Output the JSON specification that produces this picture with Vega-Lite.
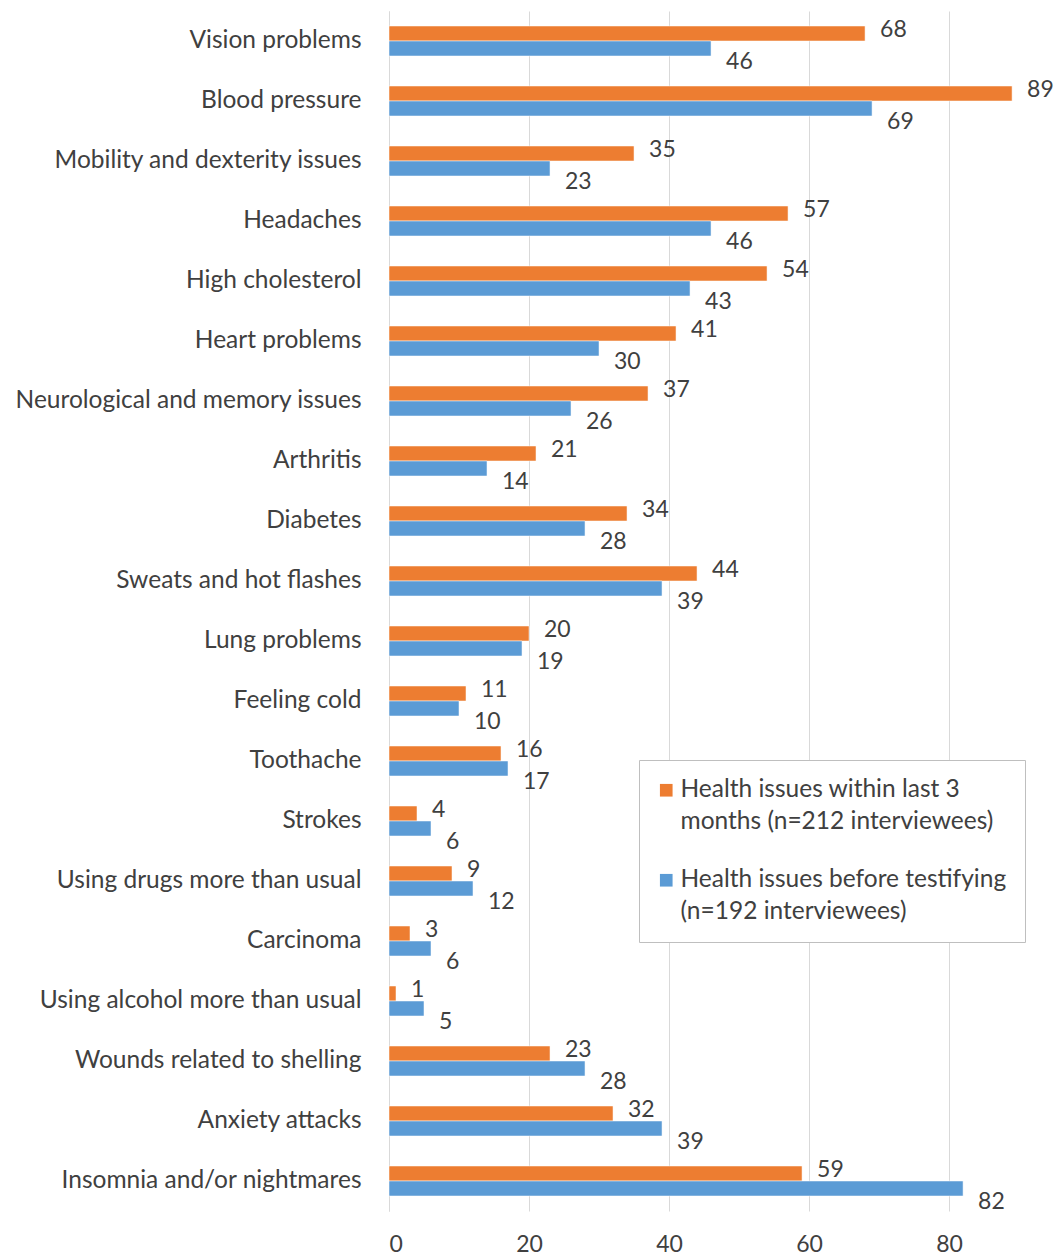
{
  "$schema": "https://vega.github.io/schema/vega-lite/v6.json",
  "width": 670,
  "height": 1200,
  "autosize": {"type": "none"},
  "padding": {"left": 389, "top": 11, "right": 0, "bottom": 45},
  "background": "white",
  "config": {
    "view": {"stroke": null},
    "font": "Lato",
    "style": {"guide-label": {"lineHeight": 32}},
    "axis": {"labelFont": "Lato", "labelColor": "#404040"}
  },
  "data": {
    "values": [
      {"category": "Vision problems", "series": "Health issues within last 3 months (n=212 interviewees)", "value": 68},
      {"category": "Vision problems", "series": "Health issues before testifying (n=192 interviewees)", "value": 46},
      {"category": "Blood pressure", "series": "Health issues within last 3 months (n=212 interviewees)", "value": 89},
      {"category": "Blood pressure", "series": "Health issues before testifying (n=192 interviewees)", "value": 69},
      {"category": "Mobility and dexterity issues", "series": "Health issues within last 3 months (n=212 interviewees)", "value": 35},
      {"category": "Mobility and dexterity issues", "series": "Health issues before testifying (n=192 interviewees)", "value": 23},
      {"category": "Headaches", "series": "Health issues within last 3 months (n=212 interviewees)", "value": 57},
      {"category": "Headaches", "series": "Health issues before testifying (n=192 interviewees)", "value": 46},
      {"category": "High cholesterol", "series": "Health issues within last 3 months (n=212 interviewees)", "value": 54},
      {"category": "High cholesterol", "series": "Health issues before testifying (n=192 interviewees)", "value": 43},
      {"category": "Heart problems", "series": "Health issues within last 3 months (n=212 interviewees)", "value": 41},
      {"category": "Heart problems", "series": "Health issues before testifying (n=192 interviewees)", "value": 30},
      {"category": "Neurological and memory issues", "series": "Health issues within last 3 months (n=212 interviewees)", "value": 37},
      {"category": "Neurological and memory issues", "series": "Health issues before testifying (n=192 interviewees)", "value": 26},
      {"category": "Arthritis", "series": "Health issues within last 3 months (n=212 interviewees)", "value": 21},
      {"category": "Arthritis", "series": "Health issues before testifying (n=192 interviewees)", "value": 14},
      {"category": "Diabetes", "series": "Health issues within last 3 months (n=212 interviewees)", "value": 34},
      {"category": "Diabetes", "series": "Health issues before testifying (n=192 interviewees)", "value": 28},
      {"category": "Sweats and hot flashes", "series": "Health issues within last 3 months (n=212 interviewees)", "value": 44},
      {"category": "Sweats and hot flashes", "series": "Health issues before testifying (n=192 interviewees)", "value": 39},
      {"category": "Lung problems", "series": "Health issues within last 3 months (n=212 interviewees)", "value": 20},
      {"category": "Lung problems", "series": "Health issues before testifying (n=192 interviewees)", "value": 19},
      {"category": "Feeling cold", "series": "Health issues within last 3 months (n=212 interviewees)", "value": 11},
      {"category": "Feeling cold", "series": "Health issues before testifying (n=192 interviewees)", "value": 10},
      {"category": "Toothache", "series": "Health issues within last 3 months (n=212 interviewees)", "value": 16},
      {"category": "Toothache", "series": "Health issues before testifying (n=192 interviewees)", "value": 17},
      {"category": "Strokes", "series": "Health issues within last 3 months (n=212 interviewees)", "value": 4},
      {"category": "Strokes", "series": "Health issues before testifying (n=192 interviewees)", "value": 6},
      {"category": "Using drugs more than usual", "series": "Health issues within last 3 months (n=212 interviewees)", "value": 9},
      {"category": "Using drugs more than usual", "series": "Health issues before testifying (n=192 interviewees)", "value": 12},
      {"category": "Carcinoma", "series": "Health issues within last 3 months (n=212 interviewees)", "value": 3},
      {"category": "Carcinoma", "series": "Health issues before testifying (n=192 interviewees)", "value": 6},
      {"category": "Using alcohol more than usual", "series": "Health issues within last 3 months (n=212 interviewees)", "value": 1},
      {"category": "Using alcohol more than usual", "series": "Health issues before testifying (n=192 interviewees)", "value": 5},
      {"category": "Wounds related to shelling", "series": "Health issues within last 3 months (n=212 interviewees)", "value": 23},
      {"category": "Wounds related to shelling", "series": "Health issues before testifying (n=192 interviewees)", "value": 28},
      {"category": "Anxiety attacks", "series": "Health issues within last 3 months (n=212 interviewees)", "value": 32},
      {"category": "Anxiety attacks", "series": "Health issues before testifying (n=192 interviewees)", "value": 39},
      {"category": "Insomnia and/or nightmares", "series": "Health issues within last 3 months (n=212 interviewees)", "value": 59},
      {"category": "Insomnia and/or nightmares", "series": "Health issues before testifying (n=192 interviewees)", "value": 82}
    ]
  },
  "encoding": {
    "y": {
      "field": "category", "type": "nominal", "sort": null, "title": null,
      "scale": {"paddingInner": 0.5, "paddingOuter": 0.25},
      "axis": {"ticks": false, "domainColor": "#d9d9d9", "domainWidth": 1, "labelPadding": 28, "grid": false, "labelFontSize": 24.5, "labelLimit": 400}
    },
    "yOffset": {
      "field": "series", "type": "nominal",
      "sort": ["Health issues within last 3 months (n=212 interviewees)", "Health issues before testifying (n=192 interviewees)"],
      "scale": {"paddingInner": 0, "paddingOuter": 0}
    },
    "x": {
      "field": "value", "type": "quantitative", "title": null,
      "scale": {"domain": [0, 95.7], "nice": false, "zero": true},
      "axis": {"values": [0, 20, 40, 60, 80], "grid": true, "gridColor": "#d9d9d9", "domain": false, "ticks": false, "labelPadding": 22, "labelFontSize": 23}
    }
  },
  "layer": [
    {
      "mark": {"type": "bar", "stroke": "white", "strokeWidth": 0.5},
      "encoding": {
        "color": {
          "field": "series", "type": "nominal",
          "scale": {
            "domain": ["Health issues within last 3 months (n=212 interviewees)", "Health issues before testifying (n=192 interviewees)"],
            "range": ["#ED7D31", "#5B9BD5"]
          },
          "legend": {
            "title": null,
            "orient": "none",
            "legendX": 250,
            "legendY": 749,
            "padding": 18,
            "fillColor": "white",
            "strokeColor": "#bfbfbf",
            "symbolType": "square",
            "symbolSize": 160,
            "symbolOffset": -3,
            "symbolStrokeWidth": 0,
            "labelOffset": 2,
            "labelFont": "Lato",
            "labelFontSize": 24.5,
            "labelColor": "#404040",
            "labelLimit": 500,
            "rowPadding": 33,
            "labelExpr": "datum.value == 'Health issues within last 3 months (n=212 interviewees)' ? ['Health issues within last 3', 'months (n=212 interviewees)'] : ['Health issues before testifying', '(n=192 interviewees)']"
          }
        }
      }
    },
    {
      "transform": [{"filter": "datum.series == 'Health issues within last 3 months (n=212 interviewees)'"}],
      "mark": {"type": "text", "align": "left", "dx": 15, "dy": -4, "fontSize": 23, "font": "Lato", "color": "#404040"},
      "encoding": {"text": {"field": "value", "type": "quantitative"}}
    },
    {
      "transform": [{"filter": "datum.series == 'Health issues before testifying (n=192 interviewees)'"}],
      "mark": {"type": "text", "align": "left", "dx": 15, "dy": 13, "fontSize": 23, "font": "Lato", "color": "#404040"},
      "encoding": {"text": {"field": "value", "type": "quantitative"}}
    }
  ]
}
